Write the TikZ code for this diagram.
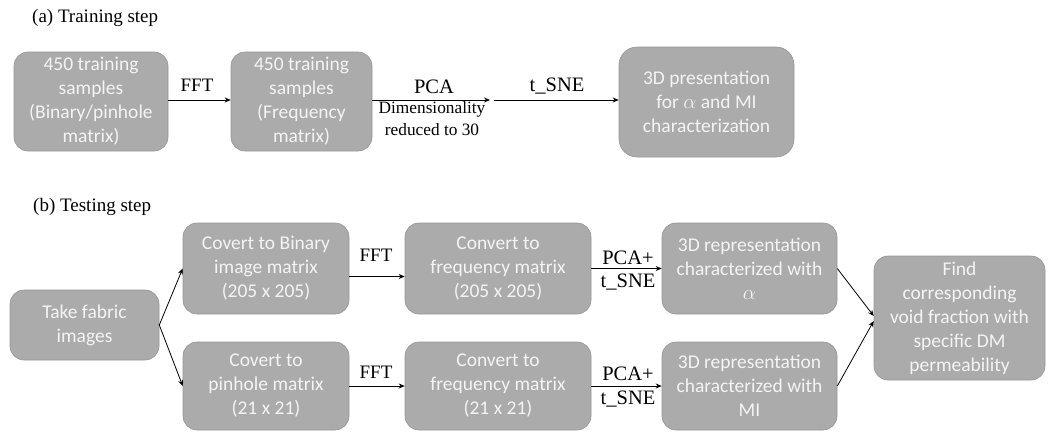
\documentclass[tikz,border=0pt]{standalone}
\usepackage{fontspec}
\setmainfont{Liberation Serif}
\newfontfamily\boxfont{Carlito}
\usetikzlibrary{arrows.meta}
\definecolor{boxfill}{HTML}{ABABAB}
\definecolor{boxline}{HTML}{959595}
\definecolor{boxtext}{HTML}{F4F4F4}
\tikzset{
  pbox/.style={draw=boxline, line width=0.6pt, fill=boxfill, rounded corners=14pt,
    inner sep=0pt, align=center, text=boxtext,
    font=\boxfont\fontsize{19.5}{24}\selectfont},
  lbl/.style={inner sep=0pt, font=\fontsize{19}{23}\selectfont, align=center},
  big/.style={font=\fontsize{20.5}{24}\selectfont},
  small/.style={font=\fontsize{17.3}{22}\selectfont},
  arr/.style={line width=0.8pt, -{Stealth[length=6pt,width=5pt]}},
  ln/.style={line width=0.8pt}
}
\begin{document}
\begin{tikzpicture}[x=1pt,y=-1pt]
\useasboundingbox (0,0) rectangle (1056,431);
% titles
\node[lbl, anchor=west] (ta) at (32,18) {(a) Training step};
\node[lbl, anchor=west] (tb) at (33,207) {(b) Testing step};
% training boxes
\node[pbox, minimum width=154pt, minimum height=99pt] (t1) at (91,101.5) {450 training\\samples\\(Binary/pinhole\\matrix)};
\node[pbox, minimum width=141pt, minimum height=99pt] (t2) at (301.5,101.5) {450 training\\samples\\(Frequency\\matrix)};
\node[pbox, minimum width=175pt, minimum height=110pt, rounded corners=18pt] (t3) at (706.5,102) {3D presentation\\for $\alpha$ and MI\\characterization};
\coordinate (c1) at (490,100);
\coordinate (c2) at (494,100);
\draw[arr] (t1.east |- 0,100) -- (t2.west |- 0,100);
\draw[arr] (t2.east |- 0,100) -- (c1);
\draw[arr] (c2) -- (t3.west |- 0,100);
\node[lbl] (fft0) at (197,85) {FFT};
\node[lbl, big] (pca0) at (434,87) {PCA};
\node[lbl, small] (dim0) at (432,119) {Dimensionality\\reduced to 30};
\node[lbl, big] (tsne0) at (557,86) {t\_SNE};
% testing boxes
\node[pbox, minimum width=149pt, minimum height=70pt] (s0) at (84.5,325) {Take fabric\\images};
\node[pbox, minimum width=166pt, minimum height=91pt] (s1) at (266,268.5) {Covert to Binary\\image matrix\\(205 x 205)};
\node[pbox, minimum width=166pt, minimum height=88pt] (s2) at (266,386) {Covert to\\pinhole matrix\\(21 x 21)};
\node[pbox, minimum width=186pt, minimum height=91pt] (s3) at (498,268.5) {Convert to\\frequency matrix\\(205 x 205)};
\node[pbox, minimum width=186pt, minimum height=88pt] (s4) at (498,386) {Convert to\\frequency matrix\\(21 x 21)};
\node[pbox, minimum width=175pt, minimum height=91pt] (s5) at (749.5,268.5) {3D representation\\characterized with\\$\alpha$};
\node[pbox, minimum width=175pt, minimum height=88pt] (s6) at (749.5,386) {3D representation\\characterized with\\MI};
\node[pbox, minimum width=171pt, minimum height=124pt] (s7) at (959.5,318) {Find\\corresponding\\void fraction with\\specific DM\\permeability};
% testing arrows
\draw[arr] (s0.east) -- (s1.west);
\draw[arr] (s0.east) -- (s2.west);
\draw[arr] ([yshift=-8pt]s1.east) -- ([yshift=-8pt]s3.west);
\draw[arr] (s2.east) -- (s4.west);
\draw[arr] (s3.east) -- (s5.west);
\draw[arr] (s4.east) -- (s6.west);
\draw[arr] (s5.east) -- ([yshift=2pt]s7.west);
\draw[arr] (s6.east) -- ([yshift=-3pt]s7.west);
% testing labels
\node[lbl] (fft1) at (376,255) {FFT};
\node[lbl] (fft2) at (376,372) {FFT};
\node[lbl, big] (pca1) at (628,258) {PCA+};
\node[lbl, big] (tsne1) at (628,282) {t\_SNE};
\node[lbl, big] (pca2) at (628,374) {PCA+};
\node[lbl, big] (tsne2) at (628,399) {t\_SNE};
\end{tikzpicture}
\end{document}
